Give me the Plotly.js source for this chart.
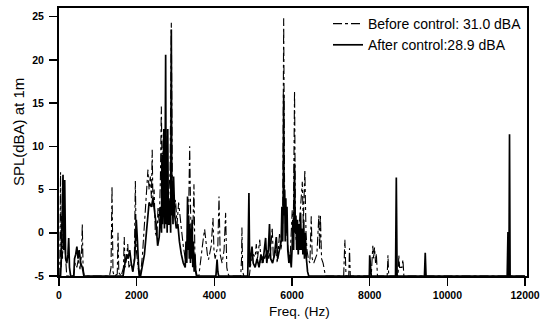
<!DOCTYPE html>
<html>
<head>
<meta charset="utf-8">
<script src="https://cdn.plot.ly/plotly-3.0.1.min.js"></script>
<style>html,body{margin:0;padding:0;background:#fff;}#chart{width:541px;height:323px;}</style>
</head>
<body>
<div id="chart"></div>
<script>
// Before control (dash-dot): frequency (Hz) and SPL (dBA)
var freqBefore = [0,20,40,55,70,90,120,150,180,200,
  380,420,460,500,540,580,600,620,650,
  1300,1340,1365,1390,1420,1500,1520,1540,1600,
  1660,1680,1700,1740,1770,1800,1850,1900,1940,1966,1990,2020,2060,
  2100,2150,2200,2250,2290,2320,2350,2380,2400,2420,2450,2480,2520,2550,2580,2610,2635,2660,2690,2720,2750,2780,2820,2860,2892,2920,2960,3000,3040,3080,3110,3150,3200,3250,3300,3340,3365,3390,3420,3450,3475,3500,3530,3560,
  3600,3640,3680,3720,3750,3780,3820,3850,3880,3920,3965,3990,4020,4060,4090,4120,4150,4200,4250,4290,4320,4350,4380,
  4680,4700,4710,4730,4760,
  4900,4940,5000,5050,5080,5110,5170,5200,5260,5300,5360,5400,5450,5490,5520,5580,5620,5680,5720,5760,5785,5810,5850,5900,5950,6005,6030,6065,6090,6130,6180,6220,6265,6290,6330,6360,6385,6420,6460,6495,6520,6560,6600,6640,6690,6710,6730,6760,6800,6830,6860,
  7330,7360,7390,7460,7480,7500,
  8040,8060,8080,8100,8125,8150,8170,8200,
  8450,8470,8490,
  8730,8750,8770,8830,8855,8880,
  12000];
var splBefore = [-5,-5,7.0,-4,2,-3,0.5,-2,-4.5,-5,
  -5,-3.5,-4,-3,-4.2,-2.5,1.0,-4,-5,
  -5,-4,5.4,-4.5,-5,-4.8,0,-4.6,-5,
  -4,-0.5,-4,-3,-1.3,-4,-3.5,-4.5,-3,6.0,-2,-3.5,-5,
  -4.8,-2.5,1,4,7.3,5,6.5,4,9.6,3,5,0,-0.5,3,1,6,14.6,5,11.7,8,12,6,4,7,24.3,4,2,3.8,1,3.5,2,0.5,-1.5,-3,-1,3,10.0,2,-1,1,5.6,-3,-4.5,-5,
  -5,-3.5,-1.5,-0.5,0.4,-1,-2.5,-3.1,-2.5,-1.5,1.7,-2,-3,-2,-1.5,4.2,-2.5,-3.5,-2,2.3,-4,-4.7,-5,
  -5,-3,0.6,-4.5,-5,
  -5,-3.5,-2.5,-2.8,-1.3,-3,-0.8,-3.5,-2.5,-3,-2,-3,-2,0.6,-3,-2,-3.5,0,-2,1,24.8,3,1,-2,-3,2.6,-1,16.4,0,-2,0.5,3,5.9,1,7.3,0,-2,-3,-3.5,1.9,-3,-3.5,-3,-2.5,2.0,-2,2.1,-3,-3.5,-4.5,-5,
  -5,-0.8,-5,-5,-1.8,-5,
  -5,-3,-1.5,-3,-1.7,-3.5,-2.4,-5,
  -5,-2.6,-5,
  -5,-2.6,-4,-4,-3.1,-5,
  -5];

// After control (solid): frequency (Hz) and SPL (dBA)
var freqAfter = [0,40,60,80,103,125,147,170,200,230,250,270,300,
  380,400,430,460,490,520,560,600,640,
  1650,1700,1740,1780,1820,1860,1900,1950,1990,2020,2050,2080,
  2100,2200,2280,2320,2380,2420,2460,2500,2540,2580,2620,2640,2650,2665,2680,2700,2715,2730,2746,2760,2770,2785,2800,2815,2830,2845,2860,2875,2892,2905,2920,2935,2950,2980,3020,3060,3100,3150,3200,
  3250,3270,3290,3310,3325,3340,3355,3370,3385,3400,3415,3430,3445,3460,3480,3500,3520,3540,
  4040,4070,4090,4110,
  4860,4890,4910,4940,4970,5000,5050,5100,5150,5200,5250,5320,5350,5390,5420,5450,5500,5550,5595,5630,5680,
  5720,5740,5760,5775,5785,5795,5810,5825,5840,5855,5870,5890,5920,5950,5980,
  6000,6020,6040,6055,6065,6080,6100,6120,6140,6160,6180,6200,6220,6240,6260,6280,6300,6320,6340,6370,6400,6430,
  7990,8000,8020,8040,
  8665,8685,8705,
  9410,9430,9450,
  11540,11560,11575,11585,11600,11615,12000];
var splAfter = [-5,-5,-3,2,6.7,-2,6.1,-3,-3.5,-2.5,-0.6,-4,-5,
  -5,-3,-2.5,-1.6,-3,-2,-3.5,-4,-5,
  -5,-3.5,-2.5,-3,-2,-3.5,-4.5,-3,1.5,-1,-4,-5,
  -5,-2.5,2,3.5,3,4,2.5,1,-1.5,-0.5,3,0,9,1,4,12,0.5,6,20.6,1,8,0,12,1,1,3,4,0,23.5,2,5,1,6.5,2,0.5,1,-1,-2.5,-3.5,
  -4,-1,-3.5,4.2,-2,2,-3,1,-3.5,0.5,-3,1.5,-4,-1,-4.5,-2.5,-4.5,-5,
  -5,-3.1,-4.5,-5,
  -5,4.6,-4,-3,-1.6,-3.5,-4,-3,-4,-2.5,-3.5,-0.6,-3.5,-2,1.0,-3,-3.5,-2.5,-0.5,-3,-2,
  -1,3,-1,5,16,2,5,-1,4,0,3,-2,-3.5,-2.5,-4,
  -2,1,-2,3,8,0,2,-2,1.5,-2.5,1,-2,2.3,-2,0.5,-2.5,1.5,-3,0,-3,-4.5,-5,
  -5,-2.6,-4.5,-5,
  -5,6.4,-5,
  -5,-2.3,-5,
  -5,0.1,-5,-5,11.4,-5,-5];

var xTicks = [0,2000,4000,6000,8000,10000,12000];
var yTicks = [-5,0,5,10,15,20,25];
var nameBefore = 'Before control: 31.0 dBA';
var nameAfter = 'After control:28.9 dBA';
var xTitle = 'Freq. (Hz)';
var yTitle = 'SPL(dBA) at 1m';

var traces = [
  {x: freqBefore, y: splBefore, name: nameBefore, type: 'scatter', mode: 'lines',
   line: {color: '#000', width: 1.1, dash: 'dashdot'}},
  {x: freqAfter, y: splAfter, name: nameAfter, type: 'scatter', mode: 'lines',
   line: {color: '#000', width: 1.7}}
];

var fontFam = '"Liberation Sans", Arial, sans-serif';
var layout = {
  width: 541, height: 323,
  margin: {l: 59, r: 14, t: 8, b: 47},
  paper_bgcolor: '#fff', plot_bgcolor: '#fff',
  showlegend: true,
  legend: {x: 1, y: 1, xanchor: 'right', yanchor: 'top', bgcolor: 'rgba(0,0,0,0)',
    font: {family: fontFam, size: 14, color: '#000'}, traceorder: 'normal'},
  xaxis: {range: [0, 12050], tickvals: xTicks, ticktext: xTicks.map(String),
    showgrid: false, zeroline: false, showline: true, linecolor: '#000', linewidth: 2, mirror: true,
    ticks: 'outside', ticklen: 8, tickwidth: 1.5, tickcolor: '#000',
    tickfont: {family: fontFam, size: 10.5, color: '#000', weight: 'bold'}},
  yaxis: {range: [-5, 26], tickvals: yTicks, ticktext: yTicks.map(String),
    showgrid: false, zeroline: false, showline: true, linecolor: '#000', linewidth: 2, mirror: true,
    ticks: 'outside', ticklen: 8, tickwidth: 1.5, tickcolor: '#000', ticklabelstandoff: 3,
    tickfont: {family: fontFam, size: 10.5, color: '#000', weight: 'bold'}},
  annotations: [
    {text: xTitle, xref: 'paper', yref: 'paper', x: 0.513, y: -0.134, xanchor: 'center', yanchor: 'middle',
     showarrow: false, font: {family: fontFam, size: 13.5, color: '#000'}},
    {text: yTitle, xref: 'paper', yref: 'paper', x: -0.0876, y: 0.537, xanchor: 'center', yanchor: 'middle',
     textangle: -90, showarrow: false, font: {family: fontFam, size: 15, color: '#000'}}
  ]
};

Plotly.newPlot('chart', traces, layout, {displayModeBar: false, staticPlot: true});
</script>
</body>
</html>
